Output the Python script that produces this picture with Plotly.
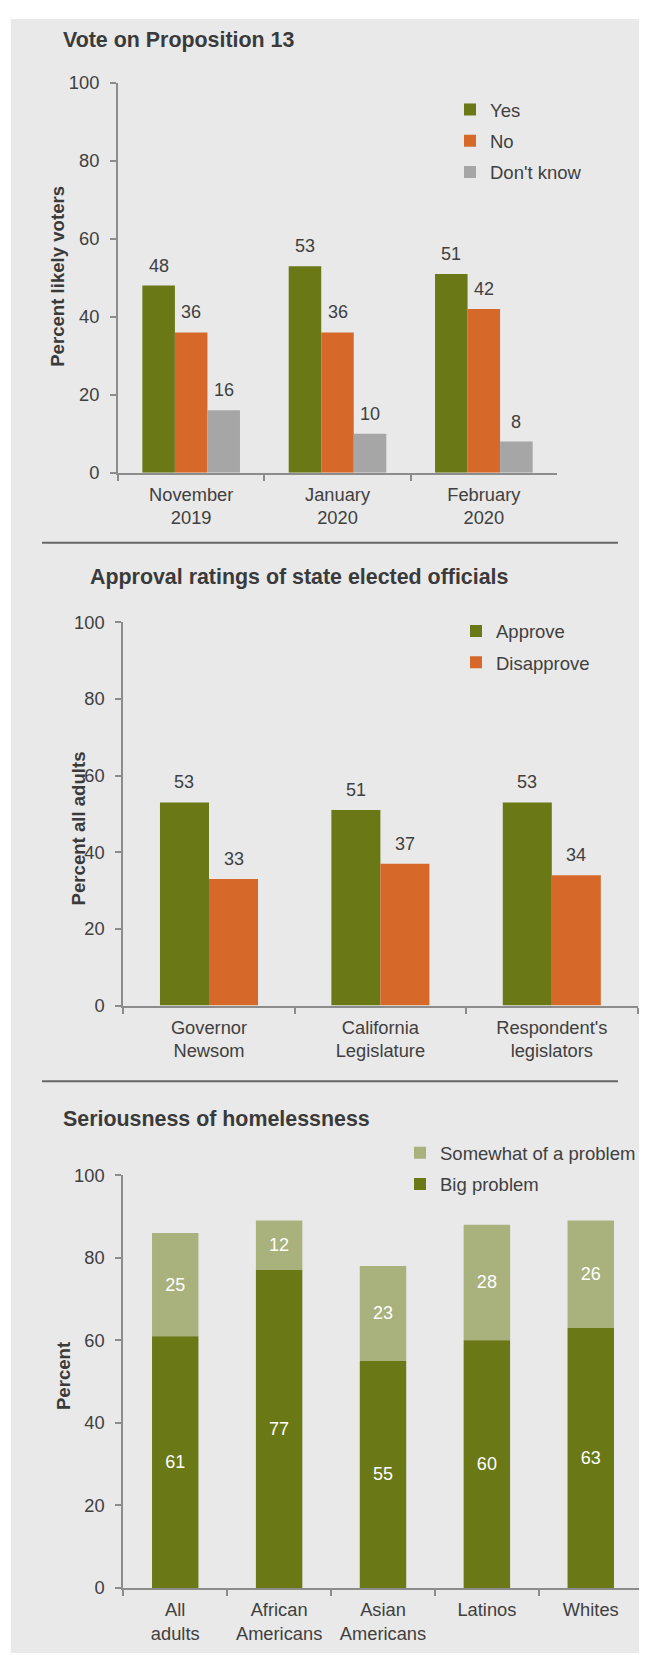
import plotly.graph_objects as go

# ---------------- data ----------------
p13_categories = ["November<br>2019", "January<br>2020", "February<br>2020"]
p13_series = ["Yes", "No", "Don't know"]
p13_yes = [48, 53, 51]
p13_no = [36, 36, 42]
p13_dk = [16, 10, 8]

appr_categories = ["Governor<br>Newsom", "California<br>Legislature", "Respondent's<br>legislators"]
appr_series = ["Approve", "Disapprove"]
appr_approve = [53, 51, 53]
appr_disapprove = [33, 37, 34]

home_categories = ["All<br>adults", "African<br>Americans", "Asian<br>Americans", "Latinos", "Whites"]
home_big = [61, 77, 55, 60, 63]
home_somewhat = [25, 12, 23, 28, 26]

y_ticks = [0, 20, 40, 60, 80, 100]

# ---------------- style ----------------
OFFX = 8                     # horizontal page offset of the figure
OFFY, SY = 19.0, 0.988       # vertical offset / scale of the figure in the photo
W, H = 647 - OFFX, 1655
FONT = "Liberation Sans, Arial, sans-serif"
TXT = "#404040"
AXIS = "#8c8c8c"
BG = "#e9e9e9"
GREEN = "#6a7816"
ORANGE = "#d6692a"
GREY = "#a6a6a6"
LIGHTGREEN = "#a9b17d"


def X(px):
    return (px - OFFX) / W


def Y(py):
    return 1 - ((py - OFFY) / SY) / H


def xd(x0, x1):
    return [X(x0), X(x1)]


def yd(y0, y1):
    return [Y(y1), Y(y0)]


fig = go.Figure()

# ---- Panel 1: Proposition 13 (grouped) ----
g1 = 0.667
w1 = g1 / 3
for j, (name, vals, col) in enumerate(zip(p13_series, [p13_yes, p13_no, p13_dk], [GREEN, ORANGE, GREY])):
    fig.add_trace(go.Bar(
        x=p13_categories, y=vals, name=name, marker_color=col, marker_line_width=0,
        width=w1, offset=-g1 / 2 + j * w1, xaxis="x", yaxis="y",
        legend="legend", legendgroup="p1_" + name,
    ))
    for i, v in enumerate(vals):
        fig.add_annotation(x=i - g1 / 2 + (j + 0.5) * w1, y=v, xref="x", yref="y",
                           text=str(v), showarrow=False, yanchor="middle", yshift=20,
                           font=dict(family=FONT, size=18, color=TXT))

# ---- Panel 2: Approval (grouped) ----
g2 = 0.572
w2 = g2 / 2
for j, (name, vals, col) in enumerate(zip(appr_series, [appr_approve, appr_disapprove], [GREEN, ORANGE])):
    fig.add_trace(go.Bar(
        x=appr_categories, y=vals, name=name, marker_color=col, marker_line_width=0,
        width=w2, offset=-g2 / 2 + j * w2, xaxis="x2", yaxis="y2",
        legend="legend2", legendgroup="p2_" + name,
    ))
    for i, v in enumerate(vals):
        fig.add_annotation(x=i - g2 / 2 + (j + 0.5) * w2, y=v, xref="x2", yref="y2",
                           text=str(v), showarrow=False, yanchor="middle", yshift=20,
                           font=dict(family=FONT, size=18, color=TXT))

# ---- Panel 3: Homelessness (stacked) ----
w3 = 0.447
fig.add_trace(go.Bar(
    x=home_categories, y=home_somewhat, base=home_big, name="Somewhat of a problem",
    marker_color=LIGHTGREEN, marker_line_width=0,
    width=w3, offset=-w3 / 2, xaxis="x3", yaxis="y3",
    text=home_somewhat, textposition="inside", insidetextanchor="middle", textangle=0,
    textfont=dict(family=FONT, size=18, color="white"), constraintext="none",
    legend="legend3", legendgroup="p3_some", legendrank=1,
))
fig.add_trace(go.Bar(
    x=home_categories, y=home_big, name="Big problem", marker_color=GREEN, marker_line_width=0,
    width=w3, offset=-w3 / 2, xaxis="x3", yaxis="y3",
    text=home_big, textposition="inside", insidetextanchor="middle", textangle=0,
    textfont=dict(family=FONT, size=18, color="white"), constraintext="none",
    legend="legend3", legendgroup="p3_big", legendrank=2,
))


def xaxis(domain, anchor, n):
    return dict(domain=domain, anchor=anchor, type="category", range=[-0.5, n - 0.5],
                showline=True, linecolor=AXIS, linewidth=2, ticks="outside", tickson="boundaries",
                ticklen=6, tickwidth=2, tickcolor=AXIS, showgrid=False, zeroline=False,
                tickfont=dict(family=FONT, size=18.3, color=TXT), ticklabelstandoff=4,
                fixedrange=True)


def yaxis(domain, anchor):
    return dict(domain=domain, anchor=anchor, range=[0, 100], tickvals=y_ticks,
                showline=True, linecolor=AXIS, linewidth=2, ticks="outside", ticklen=6,
                tickwidth=2, tickcolor=AXIS, showgrid=False, zeroline=False,
                tickfont=dict(family=FONT, size=18.3, color=TXT), ticklabelstandoff=7,
                fixedrange=True)


legend_common = dict(bgcolor="rgba(0,0,0,0)", font=dict(family=FONT, size=18.5, color=TXT),
                     xanchor="left", yanchor="top", tracegroupgap=4.2, itemclick=False,
                     traceorder="grouped")

fig.update_layout(
    width=W, height=H, margin=dict(l=0, r=0, t=0, b=0),
    paper_bgcolor="white", plot_bgcolor="rgba(0,0,0,0)",
    barmode="overlay", showlegend=True,
    xaxis=xaxis(xd(118, 557), "y", 3),
    yaxis=yaxis(yd(83, 473), "x"),
    xaxis2=xaxis(xd(123.3, 637.5), "y2", 3),
    yaxis2=yaxis(yd(622.7, 1006.3), "x2"),
    xaxis3=xaxis(xd(123.3, 642.7), "y3", 5),
    yaxis3=yaxis(yd(1176, 1589), "x3"),
    legend=dict(x=X(450), y=Y(91), **legend_common),
    legend2=dict(x=X(456), y=Y(613), **legend_common),
    legend3=dict(x=X(400), y=Y(1135), **legend_common),
)

# background panel and separators
fig.add_shape(type="rect", xref="paper", yref="paper", x0=X(11), x1=1, y0=0, y1=1,
              fillcolor=BG, line_width=0, layer="below")
for ys in [543, 1082]:
    fig.add_shape(type="line", xref="paper", yref="paper", x0=X(42), x1=X(618),
                  y0=Y(ys), y1=Y(ys), line=dict(color="#666666", width=2))

# titles
for text, x, y in [("Vote on Proposition 13", 61, 40),
                   ("Approval ratings of state elected officials", 88, 577),
                   ("Seriousness of homelessness", 61, 1120)]:
    fig.add_annotation(text="<b>" + text + "</b>", xref="paper", yref="paper", x=X(x), y=Y(y),
                       xanchor="left", yanchor="middle", showarrow=False,
                       font=dict(family=FONT, size=21.4, color="#3a3a3a"))

# y-axis titles
for text, x, y in [("Percent likely voters", 58, 277),
                   ("Percent all adults", 78, 829),
                   ("Percent", 63, 1377)]:
    fig.add_annotation(text="<b>" + text + "</b>", xref="paper", yref="paper", x=X(x), y=Y(y),
                       xanchor="center", yanchor="middle", textangle=-90, showarrow=False,
                       font=dict(family=FONT, size=18.6, color="#3a3a3a"))

fig.write_html("out.html")
